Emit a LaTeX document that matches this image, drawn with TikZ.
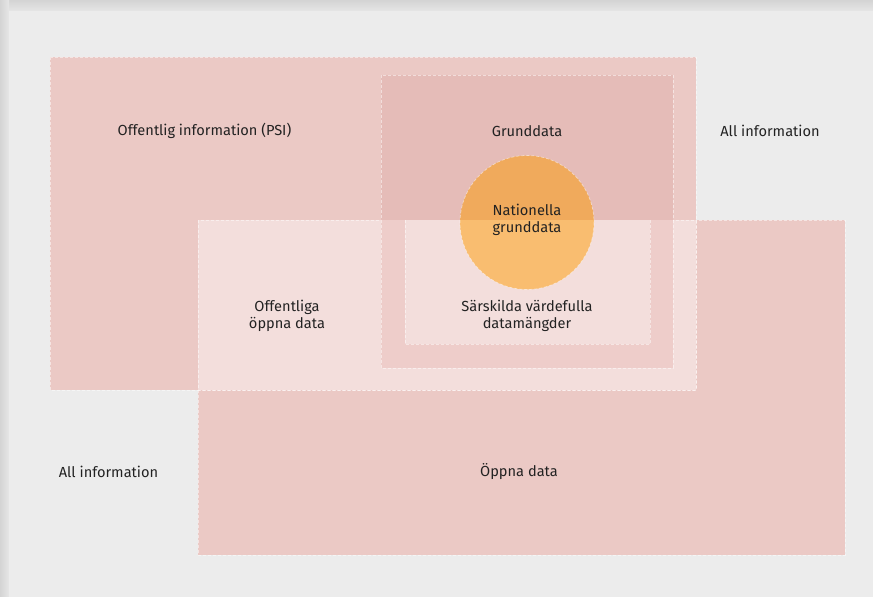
\documentclass[tikz,border=0pt]{standalone}
\usepackage{fontspec}
\setmainfont{Fira Sans}
\definecolor{panel}{HTML}{ECECEC}
\definecolor{psi}{HTML}{EBC9C5}
\definecolor{overlap}{HTML}{F3DEDC}
\definecolor{grundtop}{HTML}{E5BCB8}
\definecolor{grundbot}{HTML}{EECDCA}
\definecolor{circtop}{HTML}{F0AA5C}
\definecolor{circbot}{HTML}{F9BD70}
\definecolor{ink}{HTML}{222222}
\tikzset{
  edge/.style={draw=white, draw opacity=0.5, line width=0.7pt, dash pattern=on 3pt off 2pt},
  lbl/.style={font=\fontsize{14.6}{17}\selectfont, text=ink, align=center, inner sep=0pt}
}
\begin{document}
\begin{tikzpicture}[x=1pt,y=-1pt]
\useasboundingbox (0,0) rectangle (873,597);
% shadow and panel
\fill[color=black!13] (0,0) rectangle (873,597);
\shade[top color=black!17, bottom color=black!10] (0,0) rectangle (873,11);
\shade[left color=black!17, right color=black!10] (0,0) rectangle (9,597);
\fill[panel] (9,11) rectangle (873,597);
% PSI and open data
\fill[psi] (50,57) rectangle (696,390);
\fill[psi] (198,220) rectangle (845,555);
\draw[edge] (50,57) rectangle (696,390);
\draw[edge] (198,220) rectangle (845,555);
% overlap
\fill[overlap] (198,220) rectangle (696,390);
\draw[edge] (198,220) rectangle (696,390);
% grunddata
\fill[grundtop] (381,75) rectangle (673,220);
\fill[grundbot] (381,220) rectangle (673,368);
\draw[edge] (381,75) rectangle (673,368);
% särskilda
\fill[overlap] (405,220) rectangle (650,344);
\draw[edge] (405,220) -- (405,344) -- (650,344) -- (650,220);
% circle
\begin{scope}
\clip (440,150) rectangle (620,220);
\fill[circtop] (527,222.5) circle[radius=67];
\end{scope}
\begin{scope}
\clip (440,220) rectangle (620,300);
\fill[circbot] (527,222.5) circle[radius=67];
\end{scope}
\draw[edge] (527,222.5) circle[radius=67];
% labels
\node[lbl] (psi) at (204.5,131) {Offentlig information (PSI)};
\node[lbl] (grund) at (527,131) {Grunddata};
\node[lbl] (allr) at (770,131) {All information};
\node[lbl] (nat) at (527,219.5) {Nationella\\grunddata};
\node[lbl] (ood) at (287,315.5) {Offentliga\\öppna data};
\node[lbl] (svd) at (527,315.5) {Särskilda värdefulla\\datamängder};
\node[lbl] (alll) at (108.5,472) {All information};
\node[lbl] (oppna) at (519,472) {Öppna data};
\end{tikzpicture}
\end{document}
